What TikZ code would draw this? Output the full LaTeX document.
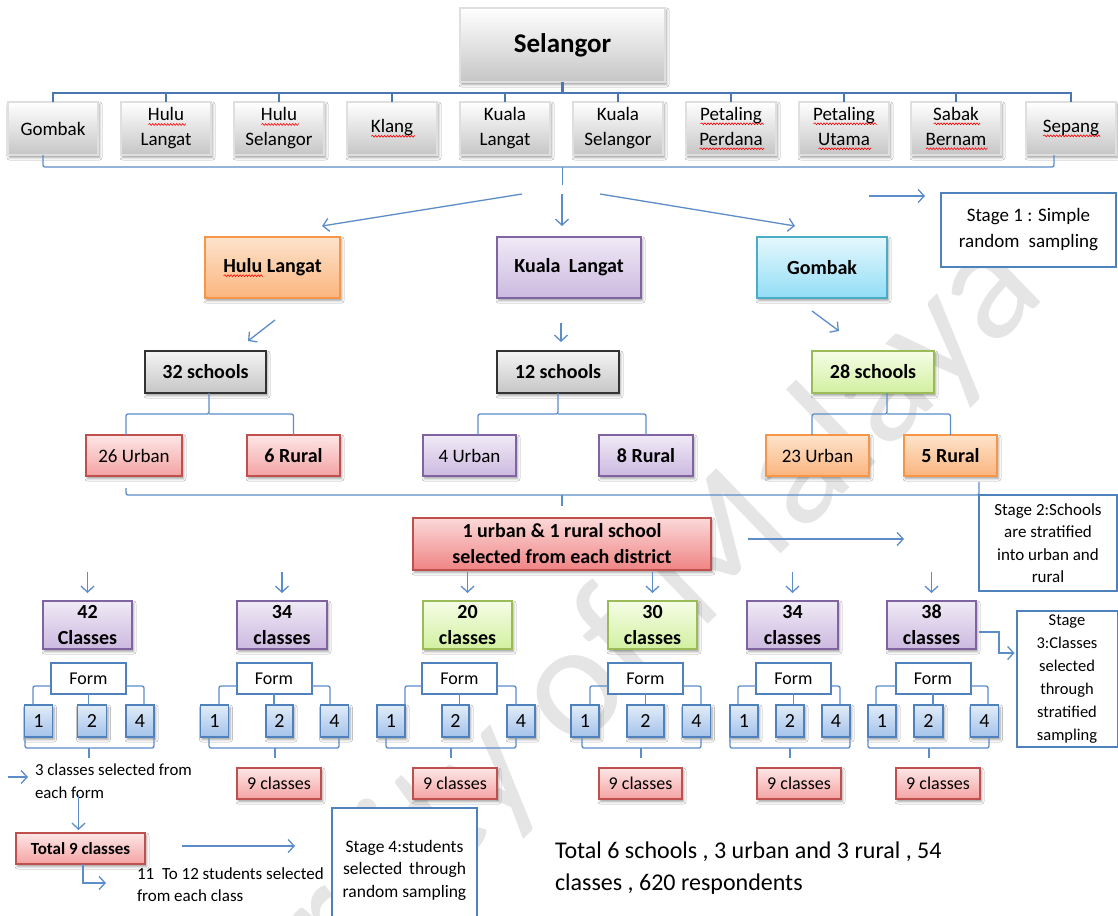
\documentclass[tikz,border=0pt]{standalone}
\usepackage{fontspec}
\setmainfont{Carlito}
\usetikzlibrary{arrows.meta,shadows.blur,calc}

% wavy red underline for flagged words (plain pgf zigzag under the word)
\newbox\wavebox
\newdimen\wavewd
\newcount\wavek
\newcommand\spellwave[1]{%
  \setbox\wavebox=\hbox{#1}\wavewd=\wd\wavebox
  \leavevmode\rlap{\begin{pgfpicture}%
    \pgfsetlinewidth{0.6pt}\pgfsetstrokecolor{red}%
    \pgfpathmoveto{\pgfpoint{0pt}{-3.5pt}}%
    \wavek=0
    \loop\advance\wavek by 1
      \pgfpathlineto{\pgfpoint{\dimexpr1.5pt*\wavek\relax}{\ifodd\wavek -2.6pt\else -4.4pt\fi}}%
    \ifdim\dimexpr1.5pt*\wavek\relax<\wavewd\repeat
    \pgfusepath{stroke}%
    \pgfsetbaseline{0pt}%
  \end{pgfpicture}}\box\wavebox}
\newcommand\fsz[2]{\fontsize{#1}{#2}\selectfont}

\definecolor{orgline}{HTML}{F79646}
\definecolor{orgtop}{HTML}{FDE3CC}
\definecolor{orgbot}{HTML}{FBB57E}
\definecolor{purline}{HTML}{8064A2}
\definecolor{purtop}{HTML}{F0EAF6}
\definecolor{purbot}{HTML}{CCB9E0}
\definecolor{cyline}{HTML}{4BACC6}
\definecolor{cytop}{HTML}{E5F8FD}
\definecolor{cybot}{HTML}{92DDF6}
\definecolor{grline}{HTML}{9BBB59}
\definecolor{grtop}{HTML}{F5FDE6}
\definecolor{grbot}{HTML}{D2F0A0}
\definecolor{rdline}{HTML}{C0504D}
\definecolor{rdtop}{HTML}{FDE6E6}
\definecolor{rdbot}{HTML}{F4A3A3}
\definecolor{rdbot2}{HTML}{F08484}
\definecolor{bltop}{HTML}{E2ECF9}
\definecolor{blbot}{HTML}{A3C2EA}
\definecolor{frameblue}{HTML}{4F81BD}
\definecolor{lineblue}{HTML}{5D8DC9}
\definecolor{busblue}{HTML}{4A77B0}

\tikzset{
  every node/.style={inner sep=0pt, outer sep=0pt, align=center, text=black},
  wh/.style 2 args={minimum width=#1pt, minimum height=#2pt},
  boxbase/.style={rectangle, line width=1.2pt,
    blur shadow={shadow xshift=1.5pt, shadow yshift=-2.5pt, shadow blur radius=2.5pt, shadow opacity=40}},
  bevel/.style={boxbase, draw=gray!25, top color=white, bottom color=gray!45},
  orangebox/.style={boxbase, draw=orgline, top color=orgtop, bottom color=orgbot},
  purplebox/.style={boxbase, draw=purline, top color=purtop, bottom color=purbot},
  cyanbox/.style={boxbase, draw=cyline, top color=cytop, bottom color=cybot},
  greenbox/.style={boxbase, draw=grline, top color=grtop, bottom color=grbot},
  redbox/.style={boxbase, draw=rdline, top color=rdtop, bottom color=rdbot},
  graybox/.style={boxbase, draw=black!80, top color=gray!8, bottom color=gray!45},
  numbox/.style={boxbase, draw=frameblue, top color=bltop, bottom color=blbot,
    wh={28}{32}, font=\fsz{20}{24}},
  formbox/.style={rectangle, draw=frameblue, line width=2pt, fill=white,
    wh={75}{31}, font=\fsz{18}{22}},
  stagebox/.style={rectangle, draw=frameblue, line width=2pt, fill=white},
  bus/.style={draw=busblue, line width=2.6pt},
  conn/.style={draw=lineblue, line width=1.3pt, rounded corners=2pt},
  arr/.style={draw=lineblue, line width=1.3pt, -{Straight Barb[length=6pt,width=13pt]}},
  district/.style={bevel, wh={90}{53}, font=\fsz{19}{25}},
  schoolfont/.style={font=\bfseries\fsz{20}{24}},
  classfont/.style={font=\bfseries\fsz{20}{26}},
}

\begin{document}
\begin{tikzpicture}[x=1pt, y=-1pt]
\useasboundingbox (0,0) rectangle (1118,915);
\fill[white] (0,0) rectangle (1118,915);

% repository watermark
\node[rotate=44, text=black!10, font=\fsz{165}{165}, anchor=base east] (wm) at (1048,296) {University of Malaya};

% ---- state and districts ----
\node[bevel, wh={205}{74}, font=\bfseries\fsz{27}{30}] (sel) at (562.5,45) {Selangor};

\node[district] (d1) at (53,128.5) {Gombak};
\node[district] (d2) at (166,128.5) {\spellwave{Hulu}\\Langat};
\node[district] (d3) at (279,128.5) {\spellwave{Hulu}\\Selangor};
\node[district] (d4) at (392,128.5) {\spellwave{Klang}};
\node[district] (d5) at (505,128.5) {Kuala\\Langat};
\node[district] (d6) at (618,128.5) {Kuala\\Selangor};
\node[district] (d7) at (731,128.5) {\spellwave{Petaling}\\\spellwave{Perdana}};
\node[district] (d8) at (844,128.5) {\spellwave{Petaling}\\\spellwave{Utama}};
\node[district] (d9) at (956,128.5) {\spellwave{Sabak}\\\spellwave{Bernam}};
\node[district] (d10) at (1071,128.5) {\spellwave{Sepang}};

\draw[bus] (sel.south) -- ++(0,11);
\draw[bus] (d1.north) -- ++(0,-9) -| (d10.north);
\foreach \i in {2,...,9} \draw[bus] (d\i.north) -- ++(0,-9);

\draw[conn] ([xshift=-10pt]d1.south) -- ++(0,12) -| ([xshift=-17pt]d10.south);
\path (sel.south |- d1.south) ++(0,12) coordinate (hub);
\draw[conn] (hub) -- ++(0,18);

% ---- stage 1 ----
\coordinate (pL0) at (522,194); \coordinate (pL1) at (322,226);
\coordinate (pM0) at (562,194); \coordinate (pM1) at (562,226);
\coordinate (pR0) at (600,194); \coordinate (pR1) at (795,226);
\draw[arr] (pL0) -- (pL1);
\draw[arr] (pM0) -- (pM1);
\draw[arr] (pR0) -- (pR1);

\node[orangebox, wh={135}{61}, schoolfont] (hl) at (272.5,267.5) {\spellwave{Hulu} Langat};
\node[purplebox, wh={144}{61}, schoolfont] (kl) at (569,267.5) {Kuala\hspace{4pt} Langat};
\node[cyanbox, wh={130}{61}, schoolfont] (gb) at (822,267.5) {Gombak};

\node[stagebox, wh={175}{74}, font=\fsz{19}{26}] (st1) at (1028.5,230) {Stage 1 : Simple\\random\hspace{5pt} sampling};
\draw[arr] ([xshift=-72pt,yshift=-3pt]st1.north west) -- ++(56,0);

% ---- schools ----
\coordinate (qL0) at (275,320); \coordinate (qL1) at (248,341);
\coordinate (qM0) at (561,323); \coordinate (qM1) at (561,342);
\coordinate (qR0) at (812,311); \coordinate (qR1) at (839,331);
\draw[arr] (qL0) -- (qL1);
\draw[arr] (qM0) -- (qM1);
\draw[arr] (qR0) -- (qR1);

\node[graybox, wh={121}{42}, schoolfont] (s1) at (205.5,372) {32 schools};
\node[graybox, wh={122}{42}, schoolfont] (s2) at (558,372) {12 schools};
\node[greenbox, wh={122}{42}, schoolfont] (s3) at (873,372) {28 schools};

\node[redbox, wh={96}{41}, font=\fsz{19}{23}] (u1) at (134,455.5) {26 Urban};
\node[redbox, wh={93}{41}, schoolfont] (r1) at (293.5,455.5) {6 Rural};
\node[purplebox, wh={93}{41}, font=\fsz{19}{23}] (u2) at (469.5,455.5) {4 Urban};
\node[purplebox, wh={94}{41}, schoolfont] (r2) at (646,455.5) {8 Rural};
\node[orangebox, wh={103}{41}, font=\fsz{19}{23}] (u3) at (817.5,455.5) {23 Urban};
\node[orangebox, wh={93}{41}, schoolfont] (r3) at (950.5,455.5) {5 Rural};

\draw[conn] ([xshift=3.5pt]s1.south) -- ++(0,21) -| ([xshift=-8pt]u1.north);
\draw[conn] ([xshift=3.5pt]s1.south) ++(0,21) -| (r1.north);
\draw[conn] (s2.south) -- ++(0,21) -| ([xshift=8.5pt]u2.north);
\draw[conn] (s2.south) ++(0,21) -| (r2.north);
\draw[conn] ([xshift=14pt]s3.south) -- ++(0,21) -| ([xshift=-5.5pt]u3.north);
\draw[conn] ([xshift=14pt]s3.south) ++(0,21) -| (r3.north);

% ---- stage 2 ----
\node[stagebox, wh={138}{96}, font=\fsz{17}{22.5}] (st2) at (1048,543) {Stage 2:Schools\\are stratified\\into urban and\\rural};
\node[redbox, top color=rdtop!80!rdbot, bottom color=rdbot2, wh={298}{52}, font=\bfseries\fsz{20}{26}] (pick) at (562,544) {1 urban \& 1 rural school\\selected from each district};

\draw[conn] ([xshift=-8pt,yshift=-12pt]u1.south) |- (st2.north west) -- ++(0,-13);
\draw[conn] (pick.north |- st2.north west) -- ++(0,11);
\draw[arr] ([xshift=37pt,yshift=5pt]pick.east) -- ++(156,0);

% ---- classes ----
\node[purplebox, wh={89}{48}, classfont] (c1) at (87.5,625) {42\\Classes};
\node[purplebox, wh={90}{48}, classfont] (c2) at (282,625) {34\\classes};
\node[greenbox, wh={89}{48}, classfont] (c3) at (467.5,625) {20\\classes};
\node[greenbox, wh={89}{48}, classfont] (c4) at (652.5,625) {30\\classes};
\node[purplebox, wh={91}{48}, classfont] (c5) at (792.5,625) {34\\classes};
\node[purplebox, wh={89}{48}, classfont] (c6) at (931.5,625) {38\\classes};
\foreach \i in {1,...,6} \draw[arr] ([yshift=29pt]c\i.north) -- ([yshift=8pt]c\i.north);

\node[stagebox, wh={101}{136}, font=\fsz{16.5}{23}] (st3) at (1067,679) {Stage\\3:Classes\\selected\\through\\stratified\\sampling};
\draw[arr] ([xshift=3pt,yshift=-7pt]c6.east) -- ++(20,0) |- ([xshift=-2pt,yshift=26pt]st3.west);

% form groups: number boxes 1, 2, 4 under each Form box
\foreach \g/\fx/\ax/\bx/\bw/\cx/\lo/\ro/\bl/\br/\so in {
  1/88.5/38.5/92/29/140/-5.5/4/-13.5/14/-3,
  2/274/214.5/279.5/27/334.5/4.5/-4.5/-5.5/4.5/-4.5,
  3/459.5/391/455.5/27/521/14/-5/-5/-5/-4.5,
  4/645.5/585/645.5/37/696.5/5/4.5/-3/4.5/-4.5,
  5/793.5/744/790/28/836/-6/4/-14/14/0,
  6/933/882/928.5/29/984.5/-6/3.5/-14/4.5/0.5}{
  \node[formbox] (f\g) at (\fx,678.5) {Form};
  \node[numbox] (na\g) at (\ax,721) {1};
  \node[numbox, minimum width=\bw pt] (nb\g) at (\bx,721) {2};
  \node[numbox] (nc\g) at (\cx,721) {4};
  \draw[conn] ([yshift=-7.5pt]f\g.west) -| ([xshift=\lo pt]na\g.north);
  \draw[conn] ([yshift=-7.5pt]f\g.east) -| ([xshift=\ro pt]nc\g.north);
  \draw[conn] (f\g.south) -- (f\g.south |- nb\g.north);
  \draw[conn] ([xshift=\bl pt]na\g.south) -- ++(0,11) -| ([xshift=\br pt]nc\g.south);
  \draw[conn] ([xshift=\so pt,yshift=-11pt]nb\g.south) -- ++(0,10);
}

\node[redbox, wh={84}{31}, font=\fsz{18}{22}] (k2) at (279,783.5) {9 classes};
\node[redbox, wh={84}{31}, font=\fsz{18}{22}] (k3) at (455,783.5) {9 classes};
\node[redbox, wh={83}{31}, font=\fsz{18}{22}] (k4) at (640.5,783.5) {9 classes};
\node[redbox, wh={84}{31}, font=\fsz{18}{22}] (k5) at (799,783.5) {9 classes};
\node[redbox, wh={84}{31}, font=\fsz{18}{22}] (k6) at (938,783.5) {9 classes};

% ---- first school, stage 4 ----
\node[anchor=north west, align=left, font=\fsz{16.8}{23}] (sel3) at (35,764) {3 classes selected from\\each form};
\draw[arr] ([xshift=-27pt,yshift=-13pt]sel3.north west) -- ++(20,0);

\node[redbox, wh={129}{31}, font=\bfseries\fsz{17}{21}] (tot) at (80.5,848.5) {Total 9 classes};
\draw[arr] ([xshift=-2pt,yshift=38pt]tot.north) -- ([xshift=-2pt,yshift=3pt]tot.north);
\draw[arr] ([xshift=37pt,yshift=2.5pt]tot.east) -- ++(113,0);
\draw[arr] ([xshift=2.5pt]tot.south) |- ++(23,19);

\node[anchor=north west, align=left, font=\fsz{17}{22}] (each) at (137,868) {11\hspace{4pt} To 12 students selected\\from each class};

\node[stagebox, wh={145}{124}, font=\fsz{17.5}{22.5}] (st4) at (404.5,870) {Stage 4:students\\selected\hspace{3pt} through\\random sampling};

\node[anchor=west, align=left, font=\fsz{24}{32}] (sum) at (555,868) {Total 6 schools , 3 urban and 3 rural , 54\\classes , 620 respondents};
\end{tikzpicture}
\end{document}
